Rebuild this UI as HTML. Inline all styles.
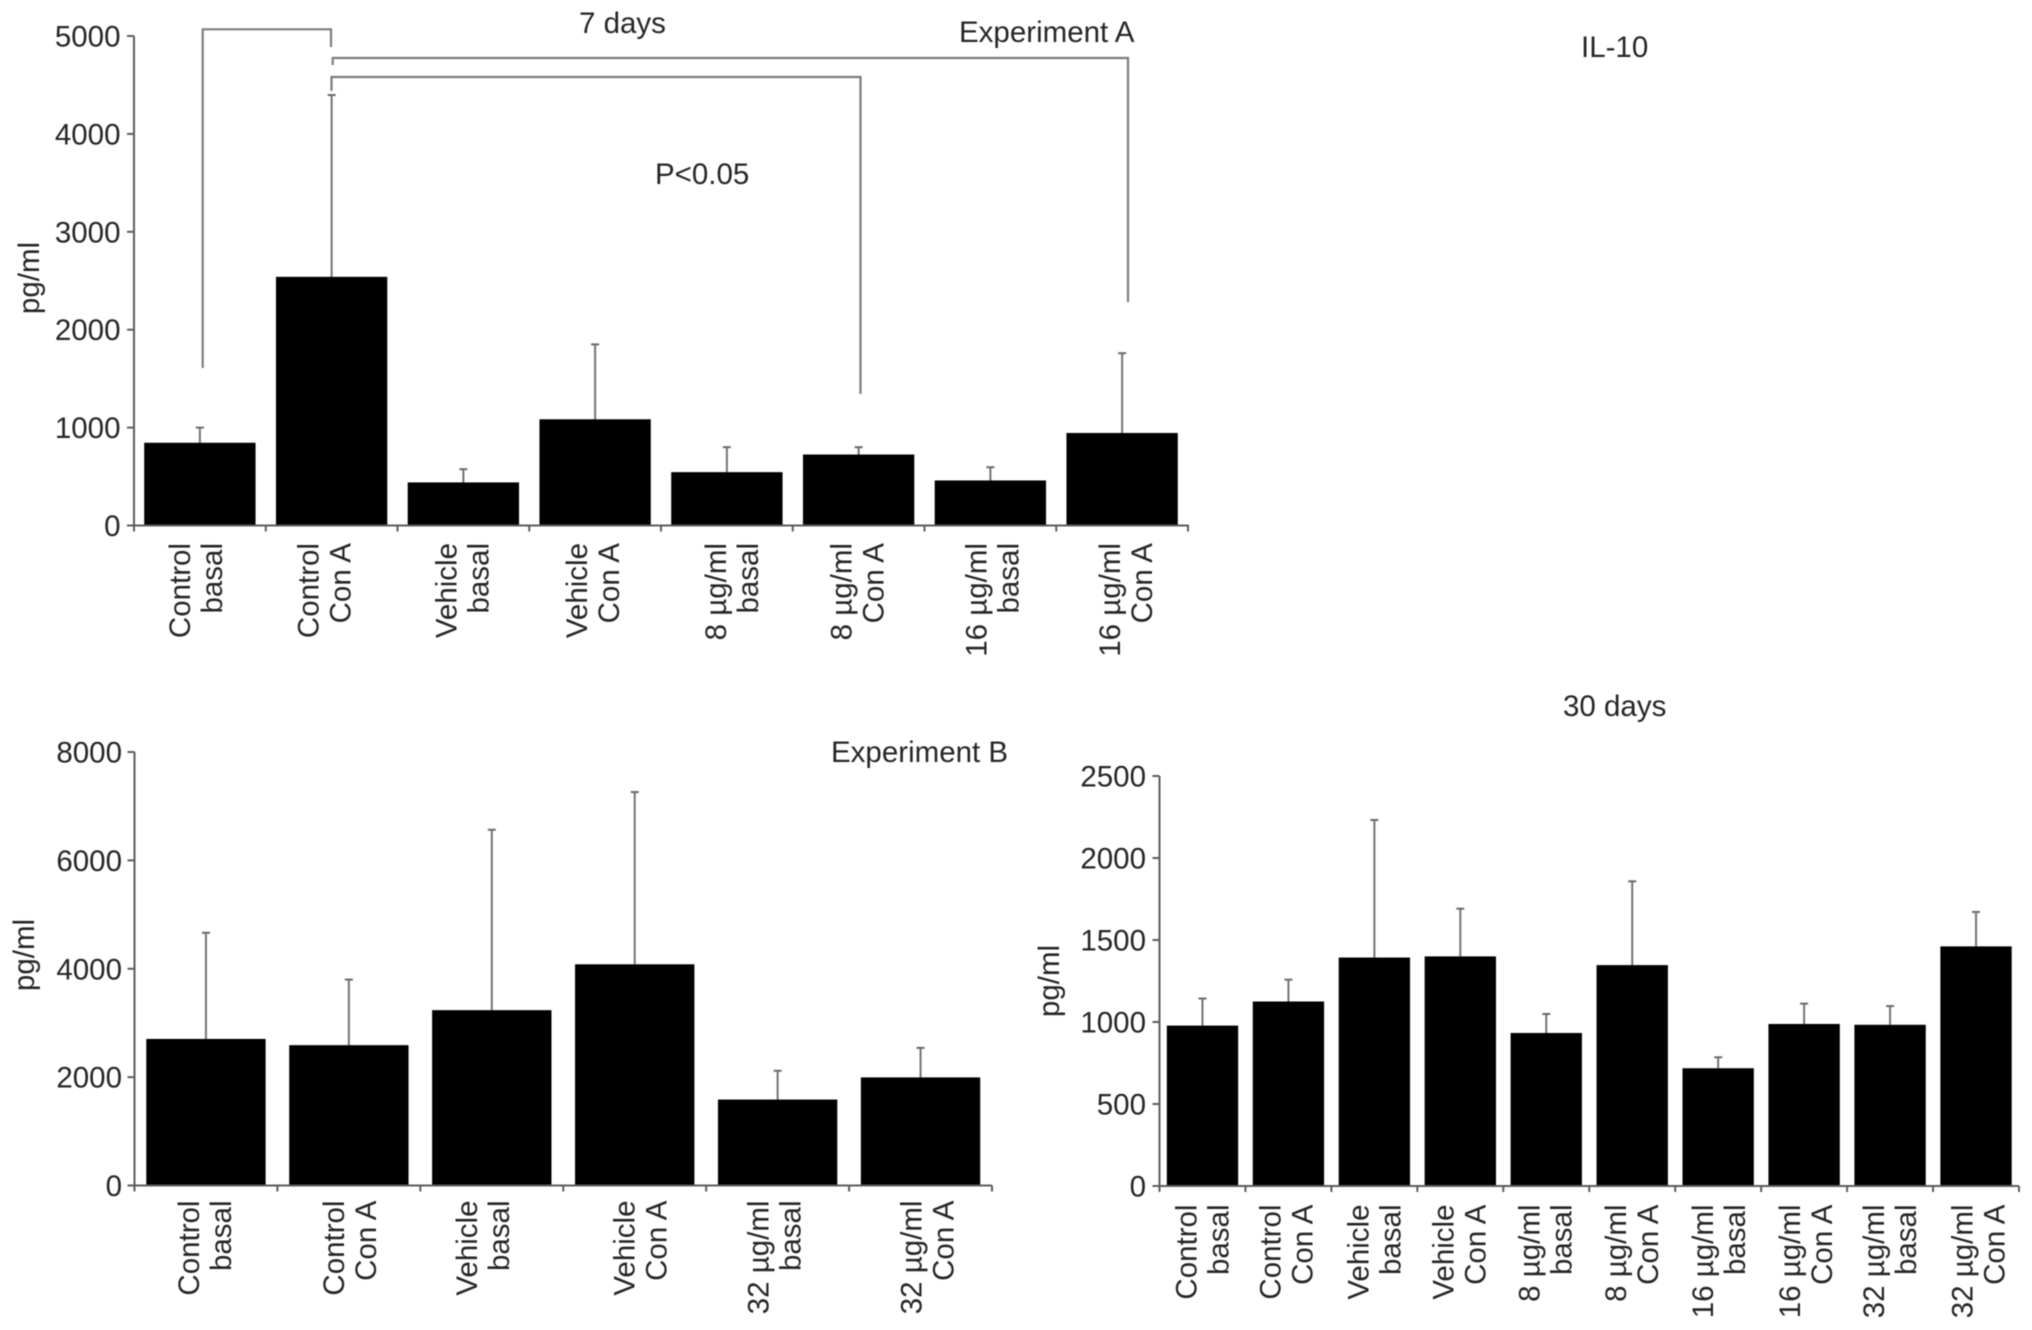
<!DOCTYPE html>
<html lang="en">
<head>
<meta charset="utf-8">
<title>IL-10 bar charts</title>
<style>
  html, body { margin: 0; padding: 0; background: #fff; }
  body { width: 2032px; height: 1330px; overflow: hidden; }
  svg { display: block; filter: blur(0.5px); }
  text { font-family: "Liberation Sans", Arial, sans-serif; fill: #262626; font-size: 29.5px; }
  .bracket { fill: none; stroke: #7d7d7d; stroke-width: 2.2; }
</style>
</head>
<body>
<svg id="figure" xmlns="http://www.w3.org/2000/svg" width="2032" height="1330" viewBox="0 0 2032 1330">
  <rect x="0" y="0" width="2032" height="1330" fill="#fff"/>

  <text x="1581" y="57">IL-10</text>
  <text x="579" y="33">7 days</text>
  <text x="959" y="42">Experiment A</text>
  <text x="655" y="184">P&lt;0.05</text>
  <text x="831" y="762">Experiment B</text>
  <text x="1563" y="716">30 days</text>

  <path class="bracket" d="M202.7 368V29.3H331V47"/>
  <path class="bracket" d="M332.7 65V58H1128V302"/>
  <path class="bracket" d="M331.5 91V77H860.5V394"/>

  <g id="chart-a"></g>
  <g id="chart-b"></g>
  <g id="chart-c"></g>
</svg>

<script>
// ---- Experiment A (7 days) ----
const categoriesA = ['Control\nbasal', 'Control\nCon A', 'Vehicle\nbasal', 'Vehicle\nCon A', '8 µg/ml\nbasal', '8 µg/ml\nCon A', '16 µg/ml\nbasal', '16 µg/ml\nCon A'];
const valuesA = [845, 2540, 440, 1085, 545, 725, 460, 945];
const errorsA = [1000, 4397, 575, 1850, 800, 800, 595, 1760];
const ticksA = [0, 1000, 2000, 3000, 4000, 5000];

// ---- Experiment B (7 days) ----
const categoriesB = ['Control\nbasal', 'Control\nCon A', 'Vehicle\nbasal', 'Vehicle\nCon A', '32 µg/ml\nbasal', '32 µg/ml\nCon A'];
const valuesB = [2705, 2590, 3236, 4082, 1586, 1995];
const errorsB = [4664, 3800, 6565, 7261, 2117, 2540];
const ticksB = [0, 2000, 4000, 6000, 8000];

// ---- 30 days ----
const categoriesC = ['Control\nbasal', 'Control\nCon A', 'Vehicle\nbasal', 'Vehicle\nCon A', '8 µg/ml\nbasal', '8 µg/ml\nCon A', '16 µg/ml\nbasal', '16 µg/ml\nCon A', '32 µg/ml\nbasal', '32 µg/ml\nCon A'];
const valuesC = [978, 1125, 1393, 1400, 933, 1347, 718, 988, 983, 1461];
const errorsC = [1143, 1258, 2232, 1691, 1049, 1858, 785, 1112, 1097, 1671];
const ticksC = [0, 500, 1000, 1500, 2000, 2500];

const SVG_NS = 'http://www.w3.org/2000/svg';

function make(parent, tag, attrs) {
  const el = document.createElementNS(SVG_NS, tag);
  for (const k in attrs) el.setAttribute(k, attrs[k]);
  parent.appendChild(el);
  return el;
}

function drawChart(root, cfg, categories, values, errors, ticks) {
  const maxV = ticks[ticks.length - 1];
  const y = v => cfg.y0 - (v / maxV) * (cfg.y0 - cfg.yTop);
  const band = (cfg.xEnd - cfg.x0) / categories.length;
  const xLeft = i => cfg.x0 + band * i;
  const xMid = i => xLeft(i) + band / 2;
  const barW = band * cfg.barRatio;

  // error bars first, so bars cover their lower part
  categories.forEach((c, i) => {
    const slug = c.replace(/\n/g, '-').replace(/[^A-Za-z0-9-]+/g, '-').toLowerCase();
    const cx = xMid(i);
    const stem = make(root, 'line', { x1: cx, x2: cx, y1: y(errors[i]), y2: y(values[i]), stroke: '#737373', 'stroke-width': 2 });
    
    
    const cap = make(root, 'line', { x1: cx - 4, x2: cx + 4, y1: y(errors[i]), y2: y(errors[i]), stroke: '#6a6a6a', 'stroke-width': 2 });
    
    

    const bar = make(root, 'rect', { x: xMid(i) - barW / 2, y: y(values[i]), width: barW, height: y(0) - y(values[i]), fill: '#000' });
    
    

    const lines = c.split('\n');
    lines.forEach((ln, j) => {
      const lx = xMid(i) + cfg.labelShift[i] + j * cfg.lineGap;
      const t = make(root, 'text', { transform: 'translate(' + lx + ' ' + cfg.labelTop + ') rotate(-90)', 'text-anchor': 'end' });
      t.textContent = ln;
      
      
    });
  });

  // axes
  const yAxis = make(root, 'line', { x1: cfg.x0, x2: cfg.x0, y1: y(maxV), y2: y(0) + 1, stroke: '#5c5c5c', 'stroke-width': 2 });
  
  
  const xAxis = make(root, 'line', { x1: cfg.x0, x2: cfg.axisEnd, y1: y(0), y2: y(0), stroke: '#5c5c5c', 'stroke-width': 2 });
  
  

  ticks.forEach(v => {
    const tk = make(root, 'line', { x1: cfg.x0 - 7, x2: cfg.x0, y1: y(v), y2: y(v), stroke: '#5c5c5c', 'stroke-width': 2 });
    
    
    const lb = make(root, 'text', { x: cfg.tickLabelX, y: y(v) + 10.5, 'text-anchor': 'end' });
    lb.textContent = String(v);
    
    
  });

  for (let i = 0; i <= categories.length; i++) {
    const tk = make(root, 'line', { x1: xLeft(i), x2: xLeft(i), y1: y(0), y2: y(0) + 6, stroke: '#5c5c5c', 'stroke-width': 2 });
    
    
  }

  const title = make(root, 'text', { transform: 'translate(' + cfg.yTitleX + ' ' + cfg.yTitleY + ') rotate(-90)', 'text-anchor': 'middle' });
  title.textContent = 'pg/ml';
  
  
}

drawChart(document.getElementById('chart-a'), {
  x0: 134, xEnd: 1188, axisEnd: 1189, y0: 525.5, yTop: 36, barRatio: 0.845,
  labelTop: 543, lineGap: 32, labelShift: [-10, -13, -7, -8, -1, -7, -4, -2],
  tickLabelX: 120.5, yTitleX: 39, yTitleY: 278
}, categoriesA, valuesA, errorsA, ticksA);

drawChart(document.getElementById('chart-b'), {
  x0: 134.5, xEnd: 992, axisEnd: 992, y0: 1185.5, yTop: 752, barRatio: 0.835,
  labelTop: 1200.5, lineGap: 32, labelShift: [-7, -5, -15, 0, -9, 1],
  tickLabelX: 122, yTitleX: 34, yTitleY: 955
}, categoriesB, valuesB, errorsB, ticksB);

drawChart(document.getElementById('chart-c'), {
  x0: 1159.5, xEnd: 2019, axisEnd: 2019, y0: 1186, yTop: 776, barRatio: 0.83,
  labelTop: 1204.5, lineGap: 32, labelShift: [-6, -8, -6, -7, -7, -6, -5, -4, -6, -3.5],
  tickLabelX: 1146, yTitleX: 1059, yTitleY: 981
}, categoriesC, valuesC, errorsC, ticksC);
</script>
</body>
</html>
